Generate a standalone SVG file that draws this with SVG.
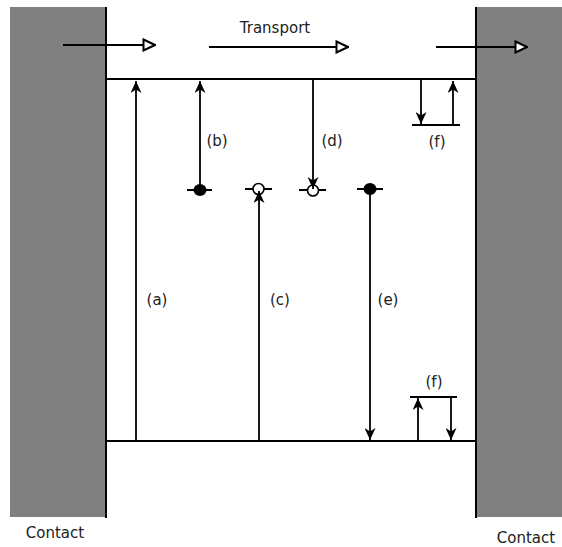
<svg xmlns="http://www.w3.org/2000/svg" width="562" height="547" viewBox="0 0 562 547">
<style>
.ln{stroke:#000;stroke-width:2;fill:none}
.ar{stroke:#000;stroke-width:1.8;fill:none}
.tx{font-family:"DejaVu Sans",Verdana,sans-serif;font-size:15px;fill:#222}
</style>
<defs>
<marker id="ah" viewBox="0 0 12 11" refX="12" refY="5.5" markerWidth="12" markerHeight="11" markerUnits="userSpaceOnUse" orient="auto">
<path d="M0,0 L12,5.5 L0,11 L3.5,5.5 z" fill="#000"/>
</marker>
<marker id="hh" viewBox="0 0 14 14" refX="13" refY="7" markerWidth="14" markerHeight="14" markerUnits="userSpaceOnUse" orient="auto">
<path d="M1.5,1.5 L13,7 L1.5,12.5 z" fill="#fff" stroke="#000" stroke-width="2"/>
</marker>
</defs>
<rect width="562" height="547" fill="#fff"/>
<g id="contact-left">
<rect x="10" y="7" width="96" height="510" fill="#808080"/>
<text class="tx" x="55" y="538" text-anchor="middle">Contact</text>
</g>
<g id="contact-right">
<rect x="476" y="7" width="86" height="510" fill="#808080"/>
<text class="tx" x="526" y="543" text-anchor="middle">Contact</text>
</g>
<g id="band">
<line class="ln" x1="106" y1="7" x2="106" y2="518"/>
<line class="ln" x1="476" y1="7" x2="476" y2="518"/>
<line class="ln" x1="106" y1="79" x2="476" y2="79"/>
<line class="ln" x1="106" y1="441" x2="476" y2="441"/>
</g>
<g id="transport">
<text class="tx" x="275" y="33" text-anchor="middle">Transport</text>
</g>
<g id="states">
<g id="trap-b"><line class="ln" x1="187" y1="190" x2="212" y2="190"/><ellipse cx="200" cy="190" rx="6.5" ry="6" fill="#000"/></g>
<g id="trap-c"><line class="ln" x1="245" y1="189" x2="272" y2="189"/><circle cx="258.5" cy="189" r="5.5" fill="#fff" stroke="#000" stroke-width="1.6"/></g>
<g id="trap-d"><line class="ln" x1="299" y1="190" x2="326" y2="190"/><circle cx="313" cy="190.5" r="5.5" fill="#fff" stroke="#000" stroke-width="1.6"/></g>
<g id="trap-e"><line class="ln" x1="357" y1="189" x2="383" y2="189"/><ellipse cx="370" cy="189" rx="6.5" ry="6" fill="#000"/></g>
<g id="level-f-top"><line class="ln" x1="412" y1="125" x2="460" y2="125"/></g>
<g id="level-f-bottom"><line class="ln" x1="410" y1="397" x2="457" y2="397"/></g>
</g>
<g id="connectors">
<line class="ln" x1="63" y1="45" x2="155" y2="45" marker-end="url(#hh)"/>
<line class="ln" x1="209" y1="47" x2="348" y2="47" marker-end="url(#hh)"/>
<line class="ln" x1="436" y1="47" x2="527" y2="47" marker-end="url(#hh)"/>
<line class="ar" x1="136" y1="441" x2="136" y2="81" marker-end="url(#ah)"/>
<line class="ar" x1="200" y1="190" x2="200" y2="81" marker-end="url(#ah)"/>
<line class="ar" x1="259" y1="441" x2="259" y2="191" marker-end="url(#ah)"/>
<line class="ar" x1="313" y1="79" x2="313" y2="189" marker-end="url(#ah)"/>
<line class="ar" x1="370" y1="189" x2="370" y2="440" marker-end="url(#ah)"/>
<line class="ar" x1="421" y1="79" x2="421" y2="124" marker-end="url(#ah)"/>
<line class="ar" x1="453" y1="125" x2="453" y2="81" marker-end="url(#ah)"/>
<line class="ar" x1="418" y1="441" x2="418" y2="398" marker-end="url(#ah)"/>
<line class="ar" x1="451" y1="397" x2="451" y2="440" marker-end="url(#ah)"/>
</g>
<g id="labels">
<text class="tx" x="217" y="146" text-anchor="middle">(b)</text>
<text class="tx" x="332" y="146" text-anchor="middle">(d)</text>
<text class="tx" x="437" y="147" text-anchor="middle">(f)</text>
<text class="tx" x="157" y="305" text-anchor="middle">(a)</text>
<text class="tx" x="280" y="305" text-anchor="middle">(c)</text>
<text class="tx" x="388" y="305" text-anchor="middle">(e)</text>
<text class="tx" x="434" y="387" text-anchor="middle">(f)</text>
</g>
</svg>
